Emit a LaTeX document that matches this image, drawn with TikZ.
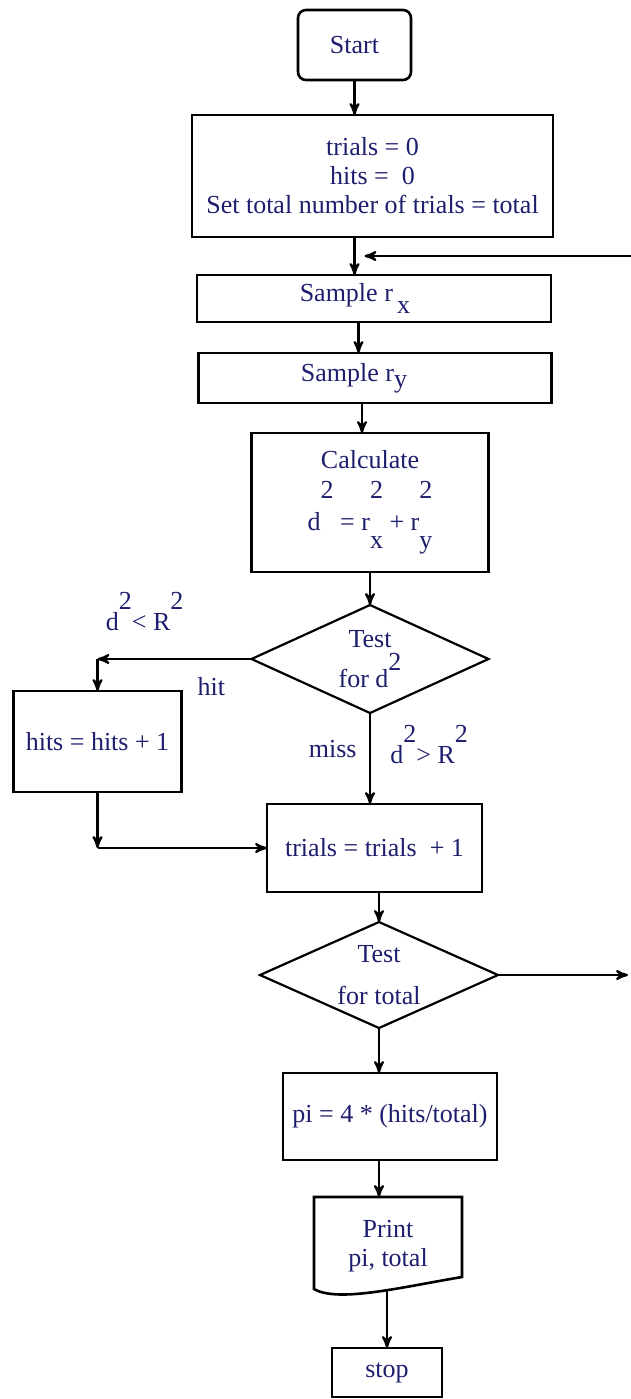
\documentclass[tikz,border=0pt]{standalone}
\usepackage{fontspec}
\setmainfont{Liberation Serif}
\usepackage{xcolor}
\usetikzlibrary{arrows,positioning,shapes.geometric}
\definecolor{inkblue}{RGB}{30,30,110}
% raised and lowered indices as the chart prints them
\newcommand{\upx}[2][9pt]{\raisebox{#1}{#2}}
\newcommand{\updn}[2]{\rlap{\raisebox{16pt}{#1}}\raisebox{-9pt}{#2}}
\tikzset{
    %Define standard arrow tip
    >=stealth',
    %Define style for boxes
    procbox/.style={
           rectangle,
           draw=black, line width=1.3pt,
           text=inkblue,
           align=center,
           inner sep=0pt, outer sep=0pt},
    termbox/.style={
           procbox,
           rounded corners=4pt},
    testbox/.style={
           diamond, aspect=2.2,
           draw=black, line width=1.1pt,
           text=inkblue,
           align=center,
           inner sep=0pt, outer sep=0pt},
    % Define arrow style
    pil/.style={
           ->,
           line width=1.1pt},
    lbl/.style={
           text=inkblue,
           inner sep=0pt}
}
\begin{document}
\begin{tikzpicture}[font=\fontsize{13}{14.5}\selectfont]
    \useasboundingbox (0,0) rectangle (315.5pt,-699.5pt);
    \node[termbox, minimum width=56.5pt, minimum height=35pt] (start) at (177.25pt,-22.5pt) {Start};
    \node[procbox, minimum width=180.5pt, minimum height=61pt, below=17.5pt of start, xshift=9pt]
        (init) {trials = 0\\hits =\ \ 0\\Set total number of trials = total};
    \node[procbox, minimum width=177pt, minimum height=23.5pt, below=19pt of init, xshift=0.75pt]
        (rx) {Sample r\,\raisebox{-6pt}{x}\hspace*{19pt}};
    \node[procbox, minimum width=176.5pt, minimum height=25pt, below=15.5pt of rx, xshift=0.5pt]
        (ry) {Sample r\raisebox{-3pt}{y}\hspace*{21pt}};
    \node[procbox, minimum width=118.5pt, minimum height=69.5pt, below=15pt of ry, xshift=-2.5pt]
        (calc) {Calculate\\[5.5pt]d\upx[16pt]{2} = r\updn{2}{x}\ + r\updn{2}{y}};
    \node[testbox, minimum width=118.5pt, minimum height=54pt, below=16.5pt of calc]
        (sqtest) {Test\\[1.5pt]for d\upx[8.5pt]{2}};
    \node[procbox, minimum width=107.5pt, minimum height=44pt, below=45.5pt of sqtest, xshift=2.25pt]
        (trials) {trials = trials\ \ + 1};
    \node[procbox, minimum width=84pt, minimum height=50.5pt, left=35pt of sqtest, yshift=-41.25pt]
        (hits) {hits = hits + 1};
    \node[testbox, minimum width=119pt, minimum height=53pt, below=15pt of trials, xshift=2.25pt]
        (totaltest) {Test\\[6.5pt]for total};
    \node[procbox, minimum width=107pt, minimum height=43.5pt, below=22.5pt of totaltest, xshift=5.5pt]
        (pi) {pi = 4 * (hits/total)};
    \node[procbox, draw=none, minimum width=74pt, minimum height=49pt, below=18.5pt of pi, xshift=-1pt]
        (print) {Print\\pi, total};
    \draw[line width=1.3pt] ([yshift=3pt]print.south west) -- (print.north west) -- (print.north east)
        -- ([yshift=9pt]print.south east)
        .. controls ([xshift=-30pt,yshift=4pt]print.south east) and ([xshift=12pt,yshift=-4pt]print.south west)
        .. ([yshift=3pt]print.south west) -- cycle;
    \node[procbox, minimum width=55pt, minimum height=24.5pt, below=26.5pt of print, xshift=-0.5pt]
        (stop) {stop};
    % loose ends and corners
    \coordinate (back) at (315.5pt,-128pt);
    \coordinate[right=65pt of totaltest.east] (out);
    \coordinate (hitc) at (hits.north |- sqtest.west);
    \coordinate (joinc) at (hits.south |- trials.west);
    % connectors
    \draw[pil] (start.south) -- (init.north -| start.south);
    \draw[pil] (init.south -| start.south) -- (rx.north -| start.south);
    \draw[pil, shorten >=5pt] (back) -- (back -| start.south);
    \draw[pil] ([xshift=2pt]rx.south -| start.south) -- ([xshift=2pt]ry.north -| start.south);
    \draw[pil] ([xshift=-4pt]calc.north |- ry.south) -- ([xshift=-4pt]calc.north);
    \draw[pil] (calc.south) -- (sqtest.north);
    \draw[pil] (sqtest.west) -- (hitc);
    \draw[pil] (hitc) -- (hits.north);
    \draw[pil] (sqtest.south) -- (trials.north -| sqtest.south);
    \draw[pil] (hits.south) -- (joinc);
    \draw[pil] (joinc) -- (trials.west);
    \draw[pil] (totaltest.north |- trials.south) -- (totaltest.north);
    \draw[pil] (totaltest.east) -- (out);
    \draw[pil] (totaltest.south) -- (pi.north -| totaltest.south);
    \draw[pil] (pi.south -| totaltest.south) -- (print.north -| totaltest.south);
    \draw[pil] ([yshift=2pt]stop.north |- print.south) -- (stop.north);
    % labels
    \node[lbl, above right=14pt and 4pt of hitc] (lessl) {d\upx[10.5pt]{2}< R\upx[10.5pt]{2}};
    \node[lbl, below left=9pt and 13pt of sqtest.west] (hitl) {hit};
    \node[lbl, below left=13.5pt and 6.5pt of sqtest.south] (missl) {miss};
    \node[lbl, below right=6pt and 10pt of sqtest.south] (morel) {d\upx[10.5pt]{2}> R\upx[10.5pt]{2}};
\end{tikzpicture}
\end{document}
